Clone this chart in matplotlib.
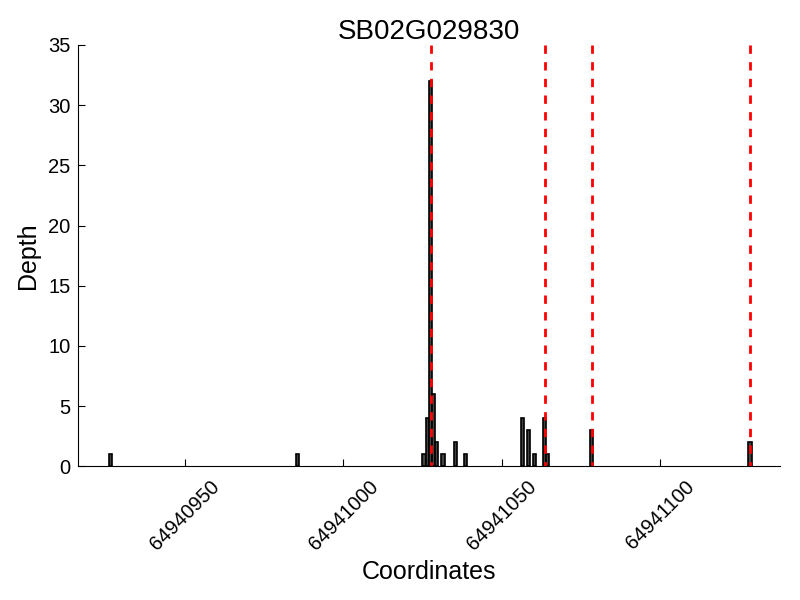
import matplotlib
matplotlib.use('Agg')
import matplotlib.pyplot as plt

plt.rcParams['font.family'] = ['Liberation Sans', 'DejaVu Sans']
plt.rcParams['lines.scale_dashes'] = False

gene = 'SB02G029830'

# read depth per coordinate (bar starts at coordinate)
coords = [64940926, 64940985,
          64941025, 64941026, 64941027, 64941028, 64941029, 64941031,
          64941035, 64941038,
          64941056, 64941058, 64941060, 64941063, 64941064,
          64941078, 64941128]
depth = [1, 1,
         1, 4, 32, 6, 2, 1,
         2, 1,
         4, 3, 1, 4, 1,
         3, 2]

# snp sites marked in red
snps = [64941027.6, 64941063.6, 64941078.6, 64941128.6]

xticks = [64940950, 64941000, 64941050, 64941100]


def main():
    fig = plt.figure(figsize=(8, 6), dpi=100)
    ax = fig.add_axes([0.097, 0.223, 0.878, 0.702])

    ax.bar(coords, depth, width=1, align='edge',
           color='#444444', edgecolor='black', linewidth=1.2)
    for s in snps:
        # draw top -> bottom so the dash starts at the top
        ax.axvline(s, ymin=1, ymax=0, color='red', linewidth=2,
                   dashes=(6, 6))

    ax.set_xlim(64940916, 64941138)
    ax.set_ylim(0, 35)
    ax.set_xticks(xticks)
    ax.set_xticklabels([str(t) for t in xticks], rotation=45, fontsize=14.5)
    ax.set_yticks(range(0, 36, 5))
    ax.tick_params(axis='y', labelsize=14.5, pad=5)
    ax.tick_params(axis='x', pad=8)
    ax.tick_params(direction='in', length=5, top=False, right=False)

    ax.spines['top'].set_visible(False)
    ax.spines['right'].set_visible(False)

    ax.set_xlabel('Coordinates', fontsize=18)
    ax.set_ylabel('Depth', fontsize=18, labelpad=6)
    ax.set_title(gene, fontsize=20, pad=4)

    fig.savefig('out.png')


if __name__ == '__main__':
    main()
